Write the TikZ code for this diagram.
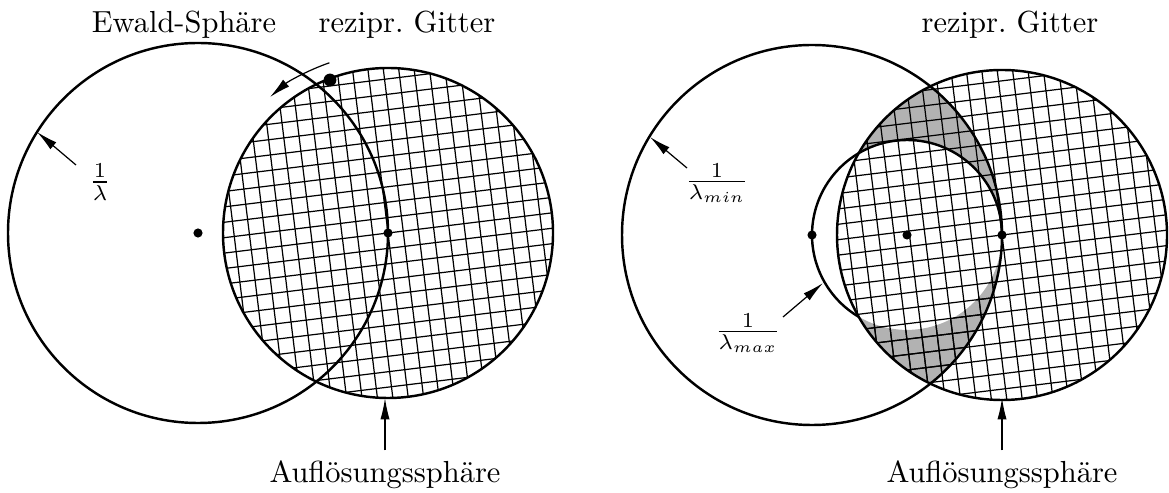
\documentclass[tikz,border=0pt]{standalone}
\usepackage{tikz}
\usetikzlibrary{arrows.meta}

\newcommand{\gitternetz}[1]{%
  \begin{scope}[shift={(#1)}, rotate=7]
    \foreach \i in {-12,...,12} {
      \draw[gitter] (\i*15.3,-190) -- (\i*15.3,190);
      \draw[gitter] (-190,\i*15.3) -- (190,\i*15.3);
    }
  \end{scope}}

\begin{document}
\begin{tikzpicture}[x=0.328pt, y=0.328pt,
    kreis/.style={line width=0.8pt},
    gitter/.style={line width=0.4pt},
    pfeil/.style={-{Latex[length=7pt,width=3pt]}, line width=0.4pt},
    punkt/.style={circle, fill, inner sep=0pt, minimum size=3pt}]
  \useasboundingbox (0,0) rectangle (1169,493);

  % links: Ewald-Kugel und Aufloesungskugel
  \coordinate (E1) at (198,260);
  \coordinate (O1) at (388,260);
  \begin{scope}
    \clip (O1) circle (165);
    \gitternetz{O1}
  \end{scope}
  \draw[kreis] (O1) circle (165);
  \draw[kreis] (E1) circle (190);
  \node[punkt] (m1) at (E1) {};
  \node[punkt] (n1) at (O1) {};
  \node[punkt, minimum size=4.2pt] (g1) at (330,413) {};
  \path (O1) ++(109:180) coordinate (dreh);
  \draw[pfeil] (dreh) arc[start angle=109, end angle=131, radius=180];

  % rechts: lambda_min und lambda_max
  \coordinate (C2) at (812,258);
  \coordinate (S2) at (907,258);
  \coordinate (O2) at (1002,258);
  \fill[black!30] (O2) arc[start angle=0, end angle=51.45, radius=190]
    arc[start angle=115.7, end angle=150.3, radius=165]
    arc[start angle=120.6, end angle=0, radius=95] -- cycle;
  \begin{scope}
    \clip (O2) arc[start angle=0, end angle=-51.45, radius=190]
      arc[start angle=-115.7, end angle=-150.3, radius=165]
      arc[start angle=-120.6, end angle=0, radius=95] -- cycle;
    \fill[black!30] (O2) circle (170);
    \gitternetz{O2}
  \end{scope}
  \begin{scope}
    \clip (O2) circle (165);
    \gitternetz{O2}
  \end{scope}
  \draw[kreis] (O2) circle (165);
  \draw[kreis] (C2) circle (190);
  \draw[kreis] (O2) arc[start angle=0, end angle=239.4, radius=95];
  \node[punkt] (m2) at (C2) {};
  \node[punkt] (s2) at (S2) {};
  \node[punkt] (n2) at (O2) {};

  % Beschriftungen
  \node[anchor=base] (ewald) at (184,460) {Ewald-Sphäre};
  \node[anchor=base] (gitter1) at (407,460) {rezipr.\ Gitter};
  \node[anchor=base] (gitter2) at (1010,460) {rezipr.\ Gitter};
  \node[anchor=base] (aufl1) at (385,10) {Auflösungssphäre};
  \node[anchor=base] (aufl2) at (1002,10) {Auflösungssphäre};
  \node (lam) at (100,311) {$\frac{1}{\lambda}$};
  \node (lammin) at (717,310) {$\frac{1}{\lambda_{min}}$};
  \node (lammax) at (748,160) {$\frac{1}{\lambda_{max}}$};

  \coordinate (lamA) at (76,328);      \coordinate (lamB) at (37,361);
  \coordinate (minA) at (687,325);     \coordinate (minB) at (650,356);
  \coordinate (maxA) at (783,176);     \coordinate (maxB) at (823,210);
  \coordinate (aufl1tip) at (385,95);  \coordinate (aufl2tip) at (1002,95);
  \draw[pfeil] (lamA) -- (lamB);
  \draw[pfeil] (minA) -- (minB);
  \draw[pfeil] (maxA) -- (maxB);
  \draw[pfeil] (aufl1.north) -- (aufl1tip);
  \draw[pfeil] (aufl2.north) -- (aufl2tip);
\end{tikzpicture}
\end{document}
